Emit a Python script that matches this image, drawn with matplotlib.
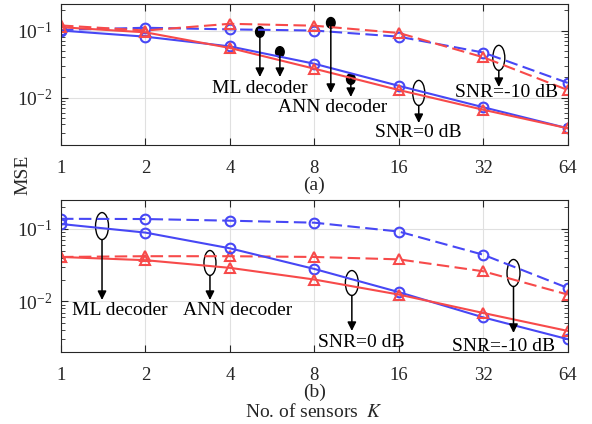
import numpy as np
import matplotlib
matplotlib.use("Agg")
import matplotlib.pyplot as plt
from matplotlib.patches import Ellipse

plt.rcParams['font.family'] = ['Liberation Serif', 'DejaVu Serif']
plt.rcParams['mathtext.fontset'] = 'stix'
plt.rcParams['font.size'] = 14

K = [1, 2, 4, 8, 16, 32, 64]

# (a)
a_ml_0 = [0.100, 0.081, 0.058, 0.032, 0.015, 0.0072, 0.0035]
a_ann_0 = [0.112, 0.094, 0.055, 0.027, 0.013, 0.0066, 0.0035]
a_ml_m10 = [0.102, 0.110, 0.104, 0.100, 0.081, 0.047, 0.0166]
a_ann_m10 = [0.119, 0.100, 0.126, 0.118, 0.092, 0.040, 0.013]
# (b)
b_ml_0 = [0.117, 0.089, 0.054, 0.028, 0.0134, 0.0060, 0.0030]
b_ann_0 = [0.041, 0.037, 0.029, 0.020, 0.0124, 0.0069, 0.0039]
b_ml_m10 = [0.138, 0.137, 0.130, 0.122, 0.092, 0.044, 0.0153]
b_ann_m10 = [0.041, 0.042, 0.042, 0.041, 0.038, 0.026, 0.0124]

BLUE = '#4747f5'
RED = '#f74a4a'
DARK = '#262626'

fig = plt.figure(figsize=(5.92, 4.24), dpi=100)
ax_a = fig.add_axes([0.103, 0.659, 0.856, 0.332])
ax_b = fig.add_axes([0.103, 0.170, 0.856, 0.358])


def style(ax):
    ax.set_xscale('log', base=2)
    ax.set_yscale('log')
    ax.set_xlim(1, 64)
    ax.set_ylim(0.002, 0.25)
    ax.set_xticks(K)
    ax.set_xticklabels([str(k) for k in K])
    ax.set_yticks([0.01, 0.1])
    ax.tick_params(which='both', direction='in', top=True, right=True, colors=DARK)
    ax.tick_params(which='major', length=5)
    ax.tick_params(axis='x', which='major', pad=11, labelsize=13.5)
    ax.tick_params(axis='y', which='major', pad=6)
    ax.tick_params(which='minor', length=3)
    ax.tick_params(axis='x', which='minor', bottom=False, top=False)
    ax.grid(True, which='major', color='#e0e0e0', linewidth=0.8)
    ax.set_axisbelow(True)
    for s in ax.spines.values():
        s.set_color(DARK)
        s.set_linewidth(0.8)


def curves(ax, ml0, ann0, mlm, annm):
    kw = dict(lw=1.5, ms=7, mew=1.5, mfc='none')
    ax.plot(K, mlm, '--o', color=BLUE, dashes=(6, 2.6), **kw)
    ax.plot(K, annm, '--^', color=RED, dashes=(6, 2.6), **kw)
    ax.plot(K, ml0, '-o', color=BLUE, **kw)
    ax.plot(K, ann0, '-^', color=RED, **kw)


def arrow(ax, x, y0, y1):
    ax.annotate('', xy=(x, y1), xytext=(x, y0), xycoords='axes fraction',
                arrowprops=dict(arrowstyle='-|>', color='k', lw=1.1,
                                mutation_scale=13, shrinkA=0, shrinkB=0))


def oval(ax, x, y, w=0.025, h=0.175):
    ax.add_patch(Ellipse((x, y), w, h, transform=ax.transAxes, fill=False,
                         edgecolor='k', lw=1.0))


def dot(ax, x, y):
    ax.add_patch(Ellipse((x, y), 0.017, 0.075, transform=ax.transAxes,
                         facecolor='k', edgecolor='k', clip_on=False))


for ax, d in [(ax_a, (a_ml_0, a_ann_0, a_ml_m10, a_ann_m10)),
              (ax_b, (b_ml_0, b_ann_0, b_ml_m10, b_ann_m10))]:
    style(ax)
    curves(ax, *d)

# annotations (a)
for x, y0 in [(0.3925, 0.80), (0.432, 0.658)]:
    dot(ax_a, x, y0)
    arrow(ax_a, x, y0, 0.48)
ax_a.text(0.3925, 0.395, 'ML decoder', transform=ax_a.transAxes, ha='center', va='center')
for x, y0, y1 in [(0.5325, 0.865, 0.367), (0.572, 0.466, 0.338)]:
    dot(ax_a, x, y0)
    arrow(ax_a, x, y0, y1)
ax_a.text(0.536, 0.26, 'ANN decoder', transform=ax_a.transAxes, ha='center', va='center')
oval(ax_a, 0.706, 0.367, 0.0237, 0.178)
arrow(ax_a, 0.706, 0.278, 0.153)
ax_a.text(0.706, 0.089, 'SNR=0 dB', transform=ax_a.transAxes, ha='center', va='center')
oval(ax_a, 0.864, 0.616, 0.0237, 0.178)
arrow(ax_a, 0.864, 0.527, 0.409)
ax_a.text(0.88, 0.367, 'SNR=-10 dB', transform=ax_a.transAxes, ha='center', va='center')

# annotations (b)
oval(ax_b, 0.081, 0.829, 0.0256, 0.178)
arrow(ax_b, 0.081, 0.74, 0.342)
ax_b.text(0.116, 0.27, 'ML decoder', transform=ax_b.transAxes, ha='center', va='center')
oval(ax_b, 0.294, 0.586, 0.0237, 0.164)
arrow(ax_b, 0.294, 0.503, 0.342)
ax_b.text(0.349, 0.27, 'ANN decoder', transform=ax_b.transAxes, ha='center', va='center')
oval(ax_b, 0.574, 0.454, 0.0256, 0.164)
arrow(ax_b, 0.574, 0.372, 0.138)
ax_b.text(0.592, 0.059, 'SNR=0 dB', transform=ax_b.transAxes, ha='center', va='center')
oval(ax_b, 0.893, 0.52, 0.0256, 0.178)
arrow(ax_b, 0.893, 0.431, 0.125)
ax_b.text(0.874, 0.033, 'SNR=-10 dB', transform=ax_b.transAxes, ha='center', va='center')

fig.text(0.531, 1 - 185 / 424, '(a)', ha='center', va='center', color=DARK)
fig.text(0.531, 1 - 392 / 424, '(b)', ha='center', va='center', color=DARK)
fig.text(0.531, 1 - 412 / 424, 'No. of sensors  $K$', ha='center', va='center', color=DARK)
fig.text(0.039, 1 - 175 / 424, 'MSE', rotation=90, ha='center', va='center', color=DARK)

fig.savefig('out.png', dpi=100)
